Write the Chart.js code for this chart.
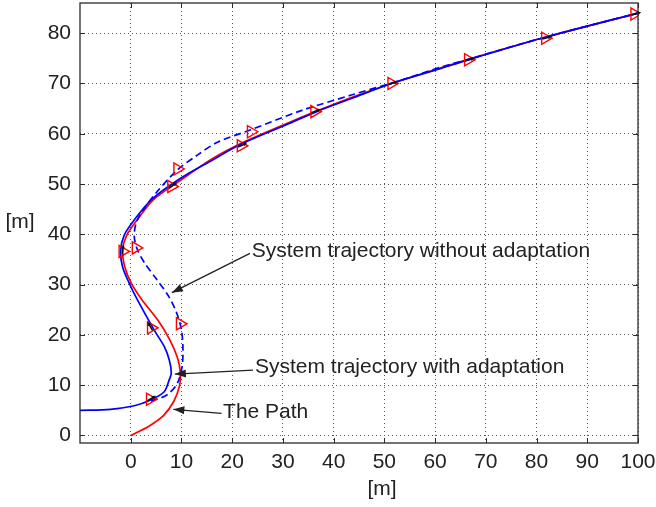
<!DOCTYPE html>
<html>
<head>
<meta charset="utf-8">
<script src="https://cdn.jsdelivr.net/npm/chart.js@4.4.0/dist/chart.umd.min.js"></script>
<style>
  html, body { margin: 0; padding: 0; background: #fff; }
</style>
</head>
<body>
<canvas id="trajChart" width="656" height="507"></canvas>
<script>
// reference path
const pathX = [0, 3.5, 6.5, 8.5, 9.6, 9.8, 9.2, 7.6, 5.3, 2.2, 0.1, -1.2, -1.6, -0.8, 1.3, 4.5, 9.9, 16, 22, 30.2, 36.9, 43.5, 51.4, 59.9, 67.2, 81, 100];
const pathY = [0, 1.8, 4, 6.8, 9.8, 12.4, 15.5, 19.2, 23, 27, 30.3, 33.6, 36.9, 39.8, 42.9, 46.9, 50.8, 55, 58.2, 61.8, 64.6, 67.2, 70, 72.7, 75, 79, 84];

// system trajectory with adaptation
const adaptX = [-10, -4, 0.7, 4, 6.6, 7.6, 8, 7.6, 6.6, 4.6, 1.3, -0.4, -1.6, -2, -1.3, 0.8, 4.2, 9.6, 15.8, 21.7, 30.2, 36.9, 43.5, 51.4, 59.9, 67.2, 81, 100];
const adaptY = [5, 5.2, 5.9, 7.1, 8.7, 11.1, 12.4, 15, 17.7, 21, 27, 30.5, 33.5, 36.6, 39.8, 43, 47, 51, 54.6, 57.9, 61.6, 64.5, 67, 70, 72.6, 74.9, 79, 84];

// system trajectory without adaptation
const noAdaptX = [4, 7.2, 9.2, 10.1, 10.3, 10, 9, 7.4, 5, 2.8, 1.3, 0.7, 1, 2.2, 5.3, 9.2, 13.2, 17.1, 23.7, 33.6, 43.5, 53.4, 61.3, 67.2, 81, 100];
const noAdaptY = [6.8, 8.1, 10.4, 13.5, 17, 21, 24.5, 27.8, 31.2, 34.2, 37, 39.5, 42, 44.5, 48.6, 52.8, 55.8, 58.3, 60.8, 64.6, 67.7, 70.7, 73.3, 75, 79, 84];

// sampled vehicle poses (heading in degrees)
const adaptMarkX = [3.8, 4, -1.6, 8, 21.7, 36.2, 51.4, 66.5, 81.7, 99.3];
const adaptMarkY = [7.2, 21.4, 36.6, 49.5, 57.6, 64.4, 70, 74.7, 79, 83.8];
const adaptHeading = [30, 120, 85, 38, 25, 22, 18, 16, 15, 14];
const noAdaptMarkX = [9.7, 1, 9.2, 23.7];
const noAdaptMarkY = [22.2, 37.3, 53, 60.4];

// axis ticks
const xTicks = [0, 10, 20, 30, 40, 50, 60, 70, 80, 90, 100];
const yTicks = [0, 10, 20, 30, 40, 50, 60, 70, 80];

// text notes with arrows
const noteText = ['System trajectory without adaptation', 'System trajectory with adaptation', 'The Path'];
const noteTextX = [23.85, 24.5, 18.2];
const noteTextY = [36.7, 13.5, 4.7];
const noteTailX = [23.5, 24.1, 17.9];
const noteTailY = [36.2, 13.0, 4.4];
const noteTipX = [8.1, 8.7, 8.4];
const noteTipY = [28.4, 12.2, 5.2];

const FONT = 'Liberation Sans, Arial, sans-serif';
const INK = '#222';

function toPoints(xs, ys) {
    return xs.map(function (x, i) { return {x: x, y: ys[i]}; });
}

function arrowHead(ctx, x0, y0, x1, y1, len, half) {
    const ang = Math.atan2(y1 - y0, x1 - x0);
    ctx.beginPath();
    ctx.moveTo(x1, y1);
    ctx.lineTo(x1 - len * Math.cos(ang) + half * Math.sin(ang), y1 - len * Math.sin(ang) - half * Math.cos(ang));
    ctx.lineTo(x1 - len * Math.cos(ang) - half * Math.sin(ang), y1 - len * Math.sin(ang) + half * Math.cos(ang));
    ctx.closePath();
    ctx.fill();
}

const framePlugin = {
    id: 'frame',
    afterDatasetsDraw: function (chart) {
        const ctx = chart.ctx;
        const a = chart.chartArea;
        const xs = chart.scales.x;
        const ys = chart.scales.y;
        ctx.save();

        // heading arrows inside the pose markers
        ctx.strokeStyle = '#111';
        ctx.fillStyle = '#111';
        ctx.lineWidth = 1.6;
        adaptMarkX.forEach(function (mx, i) {
            const px = xs.getPixelForValue(mx);
            const py = ys.getPixelForValue(adaptMarkY[i]);
            const t = adaptHeading[i] * Math.PI / 180;
            const dx = Math.cos(t), dy = -Math.sin(t);
            ctx.beginPath();
            ctx.moveTo(px - dx * 3, py - dy * 3);
            ctx.lineTo(px + dx * 5, py + dy * 5);
            ctx.stroke();
            arrowHead(ctx, px, py, px + dx * 7, py + dy * 7, 4, 2);
        });

        // box and inward ticks
        ctx.strokeStyle = '#2a2a2a';
        ctx.lineWidth = 1.3;
        ctx.strokeRect(a.left, a.top, a.right - a.left, a.bottom - a.top);
        ctx.lineWidth = 1;
        ctx.beginPath();
        xTicks.forEach(function (v) {
            const p = Math.round(xs.getPixelForValue(v)) + 0.5;
            ctx.moveTo(p, a.bottom); ctx.lineTo(p, a.bottom - 5);
            ctx.moveTo(p, a.top); ctx.lineTo(p, a.top + 5);
        });
        yTicks.forEach(function (v) {
            const p = Math.round(ys.getPixelForValue(v)) + 0.5;
            ctx.moveTo(a.left, p); ctx.lineTo(a.left + 5, p);
            ctx.moveTo(a.right, p); ctx.lineTo(a.right - 5, p);
        });
        ctx.stroke();

        // notes
        ctx.font = '21px ' + FONT;
        ctx.textAlign = 'left';
        ctx.textBaseline = 'middle';
        noteText.forEach(function (txt, i) {
            ctx.fillStyle = INK;
            ctx.fillText(txt, xs.getPixelForValue(noteTextX[i]), ys.getPixelForValue(noteTextY[i]));
            const x0 = xs.getPixelForValue(noteTailX[i]), y0 = ys.getPixelForValue(noteTailY[i]);
            const x1 = xs.getPixelForValue(noteTipX[i]), y1 = ys.getPixelForValue(noteTipY[i]);
            ctx.strokeStyle = INK;
            ctx.lineWidth = 1.3;
            ctx.beginPath();
            ctx.moveTo(x0, y0);
            ctx.lineTo(x1, y1);
            ctx.stroke();
            ctx.fillStyle = INK;
            arrowHead(ctx, x0, y0, x1, y1, 11, 4);
        });

        // axis titles
        ctx.fillStyle = INK;
        ctx.textAlign = 'center';
        ctx.fillText('[m]', 20, 222);
        ctx.fillText('[m]', 382, 489);
        ctx.restore();
    }
};

function fixTicks(values) {
    return function (scale) {
        scale.ticks = values.map(function (v) { return {value: v}; });
    };
}

// drop the label overhang padding so the plot box fills the canvas
function fixSize(w, h) {
    return function (s) {
        if (w) s.width = w;
        if (h) s.height = h;
        s.paddingTop = 0; s.paddingBottom = 0; s.paddingLeft = 0; s.paddingRight = 0;
    };
}

const tickFont = {family: FONT, size: 21};

function markerSet(label, xs, ys, order) {
    return {
        label: label,
        data: toPoints(xs, ys),
        showLine: false,
        pointStyle: 'triangle',
        rotation: 90,
        pointRadius: 7,
        borderColor: '#ff0000',
        backgroundColor: 'rgba(0,0,0,0)',
        borderWidth: 1.4,
        order: order
    };
}

function curveSet(label, xs, ys, color, dash, order) {
    return {
        label: label,
        data: toPoints(xs, ys),
        showLine: true,
        borderColor: color,
        borderWidth: 1.7,
        borderDash: dash,
        pointRadius: 0,
        tension: 0.3,
        order: order
    };
}

new Chart(document.getElementById('trajChart'), {
    type: 'scatter',
    data: {
        datasets: [
            markerSet('poses with adaptation', adaptMarkX, adaptMarkY, 0),
            markerSet('poses without adaptation', noAdaptMarkX, noAdaptMarkY, 1),
            curveSet('System trajectory with adaptation', adaptX, adaptY, '#0000ff', [], 2),
            curveSet('System trajectory without adaptation', noAdaptX, noAdaptY, '#0000ff', [7, 4], 3),
            curveSet('The Path', pathX, pathY, '#ff0000', [], 4)
        ]
    },
    options: {
        responsive: false,
        animation: false,
        devicePixelRatio: 1,
        layout: {autoPadding: false, padding: {top: 3, right: 18, left: 0, bottom: 0}},
        plugins: {legend: {display: false}, tooltip: {enabled: false}},
        scales: {
            x: {
                type: 'linear',
                min: -10,
                max: 100,
                afterBuildTicks: fixTicks(xTicks),
                afterFit: fixSize(0, 64),
                grid: {color: '#555', lineWidth: 1, drawTicks: false},
                border: {display: false, dash: [1, 3]},
                ticks: {padding: 7, color: INK, font: tickFont, maxRotation: 0, autoSkip: false}
            },
            y: {
                type: 'linear',
                min: -1.5,
                max: 86,
                afterBuildTicks: fixTicks(yTicks),
                afterFit: fixSize(80, 0),
                grid: {color: '#555', lineWidth: 1, drawTicks: false},
                border: {display: false, dash: [1, 3]},
                ticks: {padding: 9, color: INK, font: tickFont, autoSkip: false}
            }
        }
    },
    plugins: [framePlugin]
});
</script>
</body>
</html>
